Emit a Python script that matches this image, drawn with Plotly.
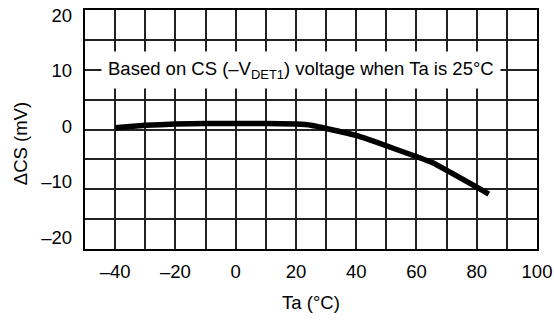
import plotly.graph_objects as go

# Data
ta = [-40, -30, -20, -10, 0, 10, 20, 25, 40, 65, 84]
dcs = [0.3, 0.7, 0.9, 1.0, 1.0, 1.0, 0.9, 0.7, -1.0, -5.5, -10.8]

x_label_vals = [-40, -20, 0, 20, 40, 60, 80, 100]
x_label_text = ["–40", "–20", "0", "20", "40", "60", "80", "100"]
y_grid = list(range(-20, 21, 5))
y_label_vals = [-20, -10, 0, 10, 20]
y_label_text = ["–20", "–10", "0", "10", "20"]

FONT = "Liberation Sans, Arial, sans-serif"
FS = 18.5
GRID = "#222"

fig = go.Figure()
fig.add_trace(go.Scatter(x=ta, y=dcs, mode="lines",
                         line=dict(color="black", width=5.5, shape="spline", smoothing=0.3),
                         hoverinfo="skip", showlegend=False))
# invisible helper trace so the label axis is drawn
fig.add_trace(go.Scatter(x=ta, y=dcs, yaxis="y2", mode="lines",
                         line=dict(color="rgba(0,0,0,0)"), hoverinfo="skip", showlegend=False))

fig.update_layout(
    width=554, height=320,
    margin=dict(l=85, r=17, t=10, b=71),
    paper_bgcolor="white", plot_bgcolor="white",
    font=dict(family=FONT, size=FS, color="black"),
    xaxis=dict(range=[-50, 100], tickvals=x_label_vals, ticktext=x_label_text,
               automargin=False,
               showgrid=True, gridcolor=GRID, gridwidth=1.5,
               minor=dict(dtick=10, tick0=0, showgrid=True, gridcolor=GRID, gridwidth=1.5),
               showline=True, linecolor="black", linewidth=2, mirror=True,
               zeroline=False, ticks="", ticklabelstandoff=5,
               title=dict(text="Ta (°C)", standoff=15, font=dict(size=FS))),
    yaxis=dict(range=[-20, 20], tickvals=y_grid, showticklabels=False,
               automargin=False,
               showgrid=True, gridcolor=GRID, gridwidth=1.5,
               showline=True, linecolor="black", linewidth=2, mirror=True,
               zeroline=False, ticks=""),
    yaxis2=dict(overlaying="y", side="left", range=[-22.16, 20.99],
                automargin=False,
                tickvals=y_label_vals, ticktext=y_label_text,
                showgrid=False, zeroline=False, showline=False, ticks="",
                ticklabelstandoff=12),
    annotations=[
        dict(text="ΔCS (mV)", xref="paper", yref="paper", x=-0.143, y=0.44,
             textangle=-90, showarrow=False, font=dict(size=FS), xanchor="center", yanchor="middle"),
        dict(text="Based on CS (–V<sub>DET1</sub>) voltage when Ta is 25°C",
             xref="paper", yref="y", x=0.478, y=10, showarrow=False,
             bgcolor="white", borderpad=6, font=dict(size=FS),
             xanchor="center", yanchor="middle"),
    ],
)

fig.write_html("out.html", config={"displayModeBar": False},
               post_script="document.body.style.margin='0';")
